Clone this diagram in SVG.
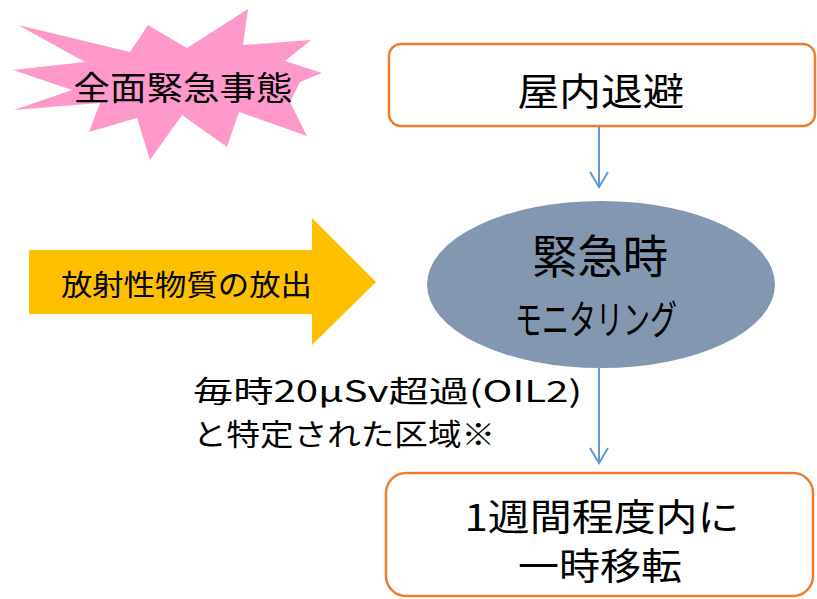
<svg xmlns="http://www.w3.org/2000/svg" width="817" height="599" viewBox="0 0 817 599">
<defs>
<style>
text{font-family:"Noto Sans CJK JP","Liberation Sans",sans-serif;fill:#000;}
.box{fill:#fff;stroke:#ED7D31;stroke-width:2.5;}
.conn{stroke:#5B9BD5;stroke-width:2;fill:none;}
</style>
<marker id="ah" viewBox="0 0 20 20" refX="18" refY="10" markerWidth="20" markerHeight="20" markerUnits="userSpaceOnUse" orient="auto">
<path d="M3,1 L18,10 L3,19" fill="none" stroke="#5B9BD5" stroke-width="2"/>
</marker>
</defs>
<rect width="817" height="599" fill="#fff"/>
<g id="burst">
<polygon fill="#FF99CC" points="18,25 130,52 148,25 187,48 248,9 243,45 311,40 285,61 322,73 300,82 290,102 307,136 239,112 227,147 182,115 150,160 137,118 89,132 100,103 14,110 72,90 13,70 85,62"/>
<text x="183" y="100" font-size="33" text-anchor="middle" textLength="219" lengthAdjust="spacingAndGlyphs">全面緊急事態</text>
</g>
<g id="release">
<polygon fill="#FFC000" points="29,250 312,250 312,218 376,282 312,345 312,314 29,314"/>
<text x="61" y="296" font-size="29" textLength="251" lengthAdjust="spacingAndGlyphs">放射性物質の放出</text>
</g>
<g id="shelter">
<rect class="box" x="389" y="44" width="426" height="82" rx="12"/>
<text x="601" y="105" font-size="38" text-anchor="middle" textLength="167" lengthAdjust="spacingAndGlyphs">屋内退避</text>
</g>
<g id="monitoring">
<ellipse cx="601" cy="284.5" rx="174" ry="83.5" fill="#8497B0"/>
<text x="600" y="273" font-size="46" text-anchor="middle" textLength="136" lengthAdjust="spacingAndGlyphs">緊急時</text>
<text x="596" y="334" font-size="40" text-anchor="middle" textLength="162" lengthAdjust="spacingAndGlyphs">モニタリング</text>
</g>
<g id="condition">
<text x="193" y="402" font-size="29.5" textLength="389" lengthAdjust="spacingAndGlyphs">毎時20μSv超過(OIL2)</text>
<text x="193" y="445" font-size="29.5" textLength="302" lengthAdjust="spacingAndGlyphs">と特定された区域※</text>
</g>
<g id="relocation">
<rect class="box" x="386" y="473" width="427" height="123" rx="20"/>
<text x="602" y="531" font-size="37" text-anchor="middle" textLength="275" lengthAdjust="spacingAndGlyphs">1週間程度内に</text>
<text x="600" y="580" font-size="37" text-anchor="middle" textLength="164" lengthAdjust="spacingAndGlyphs">一時移転</text>
</g>
<g id="connectors">
<line class="conn" x1="599" y1="127" x2="599" y2="187" marker-end="url(#ah)"/>
<line class="conn" x1="599" y1="368" x2="599" y2="463" marker-end="url(#ah)"/>
</g>
</svg>
